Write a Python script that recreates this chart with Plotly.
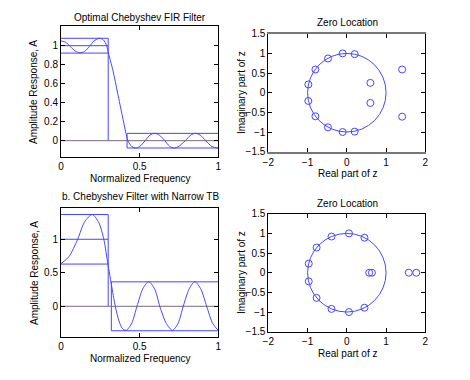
import plotly.graph_objects as go

# ---------------- data ----------------
# Top-left: optimal Chebyshev FIR amplitude response
freq_a = [0, 0.03, 0.06, 0.09, 0.12, 0.15, 0.18, 0.21, 0.244, 0.27, 0.29, 0.30, 0.33, 0.36,
          0.39, 0.41, 0.425, 0.45, 0.474, 0.50, 0.535, 0.565, 0.596, 0.625, 0.66, 0.69,
          0.72, 0.75, 0.79, 0.825, 0.855, 0.885, 0.92, 0.96, 1.0]
amp_a = [1.05, 1.035, 0.99, 0.945, 0.925, 0.94, 0.99, 1.05, 1.078, 1.06, 1.0, 0.93, 0.74, 0.50,
         0.26, 0.10, 0.0, -0.062, -0.078, -0.062, 0.0, 0.058, 0.078, 0.058, 0.0, -0.058,
         -0.078, -0.058, 0.0, 0.058, 0.078, 0.058, 0.0, -0.062, -0.078]
wp_a, ws_a, d1_a, d2_a = 0.30, 0.42, 0.078, 0.077

# Bottom-left: Chebyshev filter with narrow transition band
freq_b = [0, 0.05, 0.106, 0.15, 0.198, 0.24, 0.272, 0.298, 0.32, 0.345, 0.37, 0.39, 0.415,
          0.45, 0.483, 0.52, 0.557, 0.595, 0.628, 0.67, 0.709, 0.745, 0.777, 0.815, 0.851,
          0.89, 0.926, 0.965, 1.0]
amp_b = [0.636, 0.74, 1.0, 1.26, 1.37, 1.25, 1.0, 0.63, 0.33, 0.0, -0.23, -0.33, -0.358,
         -0.25, 0.0, 0.26, 0.367, 0.26, 0.0, -0.26, -0.358, -0.25, 0.0, 0.26, 0.367,
         0.25, 0.0, -0.26, -0.36]
wp_b, ws_b, d1_b, d2_b = 0.30, 0.32, 0.37, 0.365

# Zero locations
zr_a = [-0.106, 0.2, -0.48, -0.80, -0.98, -0.98, -0.80, -0.48, -0.106, 0.2, 0.6, 0.6, 1.41, 1.41]
zi_a = [1.0, 0.98, 0.87, 0.59, 0.21, -0.21, -0.6, -0.88, -1.0, -0.99, 0.25, -0.26, 0.59, -0.61]
zr_b = [0.055, 0.45, -0.39, -0.77, -0.97, -0.97, -0.77, -0.39, 0.055, 0.45, 0.57, 0.64, 1.58, 1.77]
zi_b = [1.0, 0.89, 0.92, 0.64, 0.23, -0.22, -0.64, -0.92, -1.0, -0.89, 0.0, 0.0, 0.0, 0.0]

BLUE = '#4646ff'
FONT = 'Liberation Sans, Arial, Helvetica, sans-serif'

fig = go.Figure()


def response(xa, ya, freq, amp, wp, ws, d1, d2):
    # tolerance lines
    segs = [
        ([0, wp, wp], [1 + d1, 1 + d1, 0]),
        ([0, wp], [1, 1]),
        ([0, wp], [1 - d1, 1 - d1]),
        ([1, ws, ws, 1], [d2, d2, -d2, -d2]),
    ]
    for sx, sy in segs:
        fig.add_trace(go.Scatter(x=sx, y=sy, mode='lines', line=dict(color=BLUE, width=1),
                                 xaxis=xa, yaxis=ya, hoverinfo='skip'))
    fig.add_trace(go.Scatter(x=[0, 1], y=[0, 0], mode='lines', line=dict(color='#7a6a7a', width=1),
                             xaxis=xa, yaxis=ya, hoverinfo='skip'))
    fig.add_trace(go.Scatter(x=freq, y=amp, mode='lines', line=dict(color=BLUE, width=1, shape='spline', smoothing=0.8),
                             xaxis=xa, yaxis=ya))


def zeros(xa, ya, zr, zi):
    fig.add_trace(go.Scatter(x=zr, y=zi, mode='markers',
                             marker=dict(symbol='circle-open', size=7, color=BLUE, line=dict(width=1, color=BLUE)),
                             xaxis=xa, yaxis=ya))


response('x', 'y', freq_a, amp_a, wp_a, ws_a, d1_a, d2_a)
zeros('x2', 'y2', zr_a, zi_a)
response('x3', 'y3', freq_b, amp_b, wp_b, ws_b, d1_b, d2_b)
zeros('x4', 'y4', zr_b, zi_b)

# unit circles
for xr, yr in (('x2', 'y2'), ('x4', 'y4')):
    fig.add_shape(type='circle', xref=xr, yref=yr, x0=-1, y0=-1, x1=1, y1=1,
                  line=dict(color=BLUE, width=1))

axcommon = dict(showgrid=False, zeroline=False, showline=True, linecolor='black', linewidth=1,
                mirror='ticks', ticks='inside', ticklen=4, tickcolor='black', automargin=False,
                tickfont=dict(family=FONT, size=10, color='black'))

XL = [0.1298, 0.4645]
XR = [0.5709, 0.9049]

fig.update_layout(
    width=470, height=380, margin=dict(l=0, r=0, t=0, b=0, pad=0),
    paper_bgcolor='white', plot_bgcolor='white', showlegend=False,
    xaxis=dict(domain=XL, range=[0, 1], tickvals=[0, 0.5, 1], ticktext=['0', '0.5', '1'], anchor='y', **axcommon),
    yaxis=dict(domain=[0.5868, 0.9303], range=[-0.172, 1.202], tickvals=[0, 0.2, 0.4, 0.6, 0.8, 1],
               ticktext=['0', '0.2', '0.4', '0.6', '0.8', '1'], anchor='x', **axcommon),
    xaxis2=dict(domain=XR, range=[-2, 2], tickvals=[-2, -1, 0, 1, 2], anchor='y2', **axcommon),
    yaxis2=dict(domain=[0.6008, 0.9113], range=[-1.5, 1.5], tickvals=[-1.5, -1, -0.5, 0, 0.5, 1, 1.5],
                ticktext=['\u22121.5', '\u22121', '\u22120.5', '0', '0.5', '1', '1.5'], anchor='x2', **axcommon),
    xaxis3=dict(domain=XL, range=[0, 1], tickvals=[0, 0.5, 1], ticktext=['0', '0.5', '1'], anchor='y3', **axcommon),
    yaxis3=dict(domain=[0.1139, 0.4518], range=[-0.454, 1.462], tickvals=[0, 0.5, 1],
                ticktext=['0', '0.5', '1'], anchor='x3', **axcommon),
    xaxis4=dict(domain=XR, range=[-2, 2], tickvals=[-2, -1, 0, 1, 2], anchor='y4', **axcommon),
    yaxis4=dict(domain=[0.1271, 0.4376], range=[-1.5, 1.5], tickvals=[-1.5, -1, -0.5, 0, 0.5, 1, 1.5],
                ticktext=['\u22121.5', '\u22121', '\u22120.5', '0', '0.5', '1', '1.5'], anchor='x4', **axcommon),
)
fig.update_layout(xaxis2=dict(linecolor='#777777', linewidth=2))


def label(text, x, y, angle=0):
    fig.add_annotation(text=text, x=x / 470, y=1 - y / 380, xref='paper', yref='paper',
                       showarrow=False, textangle=angle, xanchor='center', yanchor='middle',
                       font=dict(family=FONT, size=10, color='black'))


label('Optimal Chebyshev FIR Filter', 140, 17.5)
label('Zero Location', 347, 23)
label('b. Chebyshev Filter with Narrow TB', 140, 196)
label('Zero Location', 347, 203)
label('Normalized Frequency', 140, 178)
label('Normalized Frequency', 140, 358)
label('Real part of z', 347, 173)
label('Real part of z', 347, 353)
label('Amplitude Response, A', 34, 92, -90)
label('Amplitude Response, A', 34, 273, -90)
label('Imaginary part of z', 241, 93, -90)
label('Imaginary part of z', 241, 273, -90)

fig.write_html('out.html', config={'displayModeBar': False},
               post_script="document.body.style.margin='0';document.body.style.padding='0';"
                           "document.body.style.overflow='hidden';")
